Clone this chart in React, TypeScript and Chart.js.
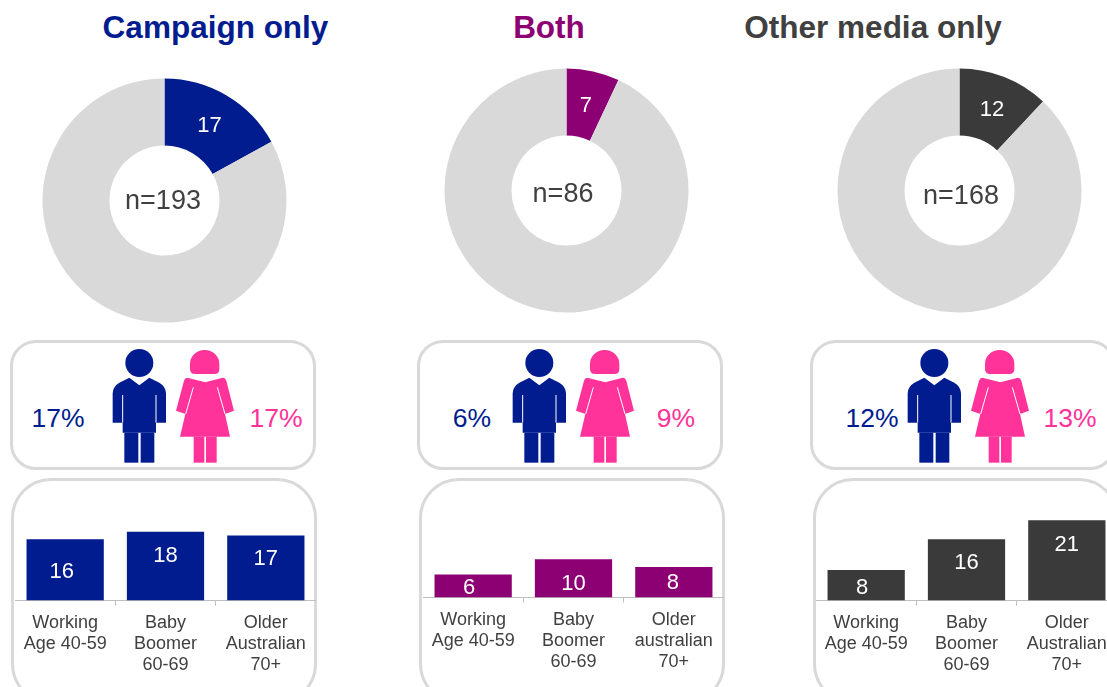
import React, { useEffect, useRef } from "react";
import { Chart, registerables } from "chart.js";

Chart.register(...registerables);

const panelTitles = ["Campaign only", "Both", "Other media only"];
const donutShares = [17, 7, 12];
const donutRemainders = [83, 93, 88];
const sampleSizes = [193, 86, 168];
const malePercents = [17, 6, 12];
const femalePercents = [17, 9, 13];
const ageLabelsA = [["Working", "Age 40-59"], ["Baby", "Boomer", "60-69"], ["Older", "Australian", "70+"]];
const ageLabelsB = [["Working", "Age 40-59"], ["Baby", "Boomer", "60-69"], ["Older", "australian", "70+"]];
const ageValuesCampaign = [16, 18, 17];
const ageValuesBoth = [6, 10, 8];
const ageValuesOther = [8, 16, 21];

const FONT = '"Liberation Sans", Arial, sans-serif';
const NAVY = "#001c8f";
const PURPLE = "#8c0073";
const DARK = "#3a3a3a";
const PINK = "#ff3399";
const GRAY = "#d9d9d9";
const TEXT = "#404040";

const layouts = [
  {
    color: NAVY, titleX: 215.5, donutLeft: 42, donutTop: 78, nX: 163, nY: 200,
    topBox: 10, lowBox: 11, maleX: 58, femaleX: 276, iconDx: 0, barLeft: 15, barTop: 501,
    labels: ageLabelsA, values: ageValuesCampaign, labelInset: [31.5, 23.5, 22.5], labelShift: [-3.5, 0, 0],
  },
  {
    color: PURPLE, titleX: 549, donutLeft: 444, donutTop: 68, nX: 563, nY: 193,
    topBox: 417, lowBox: 419, maleX: 472, femaleX: 676, iconDx: 400, barLeft: 423, barTop: 498,
    labels: ageLabelsB, values: ageValuesBoth, labelInset: [12, 23.5, 14.5], labelShift: [-4, 0, -1],
  },
  {
    color: TEXT, barColor: DARK, titleX: 873, donutLeft: 837, donutTop: 68, nX: 961, nY: 195,
    topBox: 810, lowBox: 813, maleX: 872, femaleX: 1070, iconDx: 794.5, barLeft: 816, barTop: 501,
    labels: ageLabelsA, values: ageValuesOther, labelInset: [17, 23, 24], labelShift: [-4, 0, 0],
  },
];

function Donut({ index }: { index: number }) {
  const ref = useRef<HTMLCanvasElement>(null);
  const l = layouts[index];
  useEffect(() => {
    const chart = new Chart(ref.current!, {
      type: "doughnut",
      data: {
        labels: [panelTitles[index], "Other"],
        datasets: [{
          data: [donutShares[index], donutRemainders[index]],
          backgroundColor: [l.barColor ?? l.color, GRAY],
          borderWidth: 0,
        }],
      },
      options: {
        animation: false,
        responsive: false,
        cutout: 55,
        layout: { padding: 0.5 },
        plugins: { legend: { display: false }, tooltip: { enabled: false } },
      },
      plugins: [{
        id: "sliceLabel",
        afterDatasetsDraw(c: any) {
          const arc = c.getDatasetMeta(0).data[0];
          const p = arc.getCenterPoint();
          const ctx = c.ctx;
          ctx.save();
          ctx.fillStyle = "#ffffff";
          ctx.font = `22px ${FONT}`;
          ctx.textAlign = "center";
          ctx.textBaseline = "middle";
          ctx.fillText(String(donutShares[index]), p.x, p.y + 2);
          ctx.restore();
        },
      }],
    } as any);
    return () => chart.destroy();
  }, []);
  return (
    <canvas
      ref={ref}
      width={245}
      height={245}
      style={{ position: "absolute", left: l.donutLeft, top: l.donutTop, width: 245, height: 245 }}
    />
  );
}

function Bars({ index }: { index: number }) {
  const ref = useRef<HTMLCanvasElement>(null);
  const l = layouts[index];
  useEffect(() => {
    const chart = new Chart(ref.current!, {
      type: "bar",
      data: {
        labels: l.labels,
        datasets: [{
          data: l.values,
          backgroundColor: l.barColor ?? l.color,
          borderWidth: 0,
          barPercentage: 0.77,
          categoryPercentage: 1,
        }],
      },
      options: {
        animation: false,
        responsive: false,
        layout: { padding: 0 },
        plugins: { legend: { display: false }, tooltip: { enabled: false } },
        scales: {
          y: { display: false, min: 0, max: 26 },
          x: {
            afterFit(s: any) { s.height = 86.4; },
            border: { display: true, color: "#bfbfbf", width: 1 },
            grid: { drawOnChartArea: false, drawTicks: true, tickLength: 5, offset: true, color: "#bfbfbf" },
            ticks: {
              autoSkip: false,
              maxRotation: 0,
              minRotation: 0,
              padding: 7,
              color: TEXT,
              font: { family: FONT, size: 18, lineHeight: 21 / 18 },
            },
          },
        },
      },
      plugins: [{
        id: "barLabels",
        afterDatasetsDraw(c: any) {
          const ctx = c.ctx;
          ctx.save();
          ctx.fillStyle = "#ffffff";
          ctx.font = `22px ${FONT}`;
          ctx.textAlign = "center";
          ctx.textBaseline = "middle";
          c.getDatasetMeta(0).data.forEach((bar: any, i: number) => {
            ctx.fillText(String(l.values[i]), bar.x + l.labelShift[i], bar.y + l.labelInset[i] + 1);
          });
          ctx.restore();
        },
      }],
    } as any);
    return () => chart.destroy();
  }, []);
  return (
    <canvas
      ref={ref}
      width={301}
      height={186}
      style={{ position: "absolute", left: l.barLeft, top: l.barTop, width: 301, height: 186 }}
    />
  );
}

function Figures({ dx }: { dx: number }) {
  return (
    <svg
      viewBox="0 0 450 390"
      width={150}
      height={130}
      style={{ position: "absolute", left: 100 + dx, top: 340 }}
    >
      <circle cx={118} cy={69} r={42} fill={NAVY} />
      <path
        d="M88 113 L118 136 L148 113 L178 128 Q198 140 198 160 L198 248 L168 248 L168 278 L68 278 L68 248 L38 248 L38 160 Q38 140 58 128 Z"
        fill={NAVY}
      />
      <path d="M68 165 L68 248 M168 165 L168 248" stroke="#ffffff" strokeWidth={3} fill="none" />
      <rect x={73} y={278} width={42} height={90} fill={NAVY} />
      <rect x={122} y={278} width={41} height={90} fill={NAVY} />
      <path
        d="M270 72 A44 42 0 0 1 358 72 L358 88 Q358 104 340 102 L290 102 Q270 104 270 88 Z"
        fill={PINK}
      />
      <path
        d="M262 113 L316 127 L368 113 Q376 113 379 122 L402 212 L375 222 L390 290 L240 290 L256 222 L228 212 L252 122 Q255 113 262 113 Z"
        fill={PINK}
      />
      <path d="M280 142 L257 222 M352 142 L375 222" stroke="#ffffff" strokeWidth={3} fill="none" />
      <rect x={281} y={290} width={32} height={78} fill={PINK} />
      <rect x={318} y={290} width={32} height={78} fill={PINK} />
    </svg>
  );
}

function centered(x: number, y: number, size: number, color: string, bold = false): React.CSSProperties {
  return {
    position: "absolute",
    left: x - 200,
    top: y - 30,
    width: 400,
    height: 60,
    lineHeight: "60px",
    textAlign: "center",
    fontFamily: FONT,
    fontSize: size,
    fontWeight: bold ? 700 : 400,
    color,
    whiteSpace: "nowrap",
  };
}

export default function App() {
  return (
    <div style={{ position: "fixed", left: 0, top: 0, width: 1107, height: 687, overflow: "hidden", background: "#ffffff" }}>
      {layouts.map((l, i) => (
        <React.Fragment key={i}>
          <div style={centered(l.titleX, 26.5, 31.5, l.color, true)}>{panelTitles[i]}</div>
          <Donut index={i} />
          <div style={centered(l.nX, l.nY, 27, TEXT)}>n={sampleSizes[i]}</div>
          <div style={{ position: "absolute", boxSizing: "border-box", left: l.topBox, top: 340, width: 306, height: 130, border: `3px solid ${GRAY}`, borderRadius: 26 }} />
          <div style={{ position: "absolute", boxSizing: "border-box", left: l.lowBox, top: 478, width: 306, height: 226, border: `3px solid ${GRAY}`, borderRadius: 40 }} />
          <Figures dx={l.iconDx} />
          <div style={centered(l.maleX, 418, 26.5, NAVY)}>{malePercents[i]}%</div>
          <div style={centered(l.femaleX, 418, 26.5, PINK)}>{femalePercents[i]}%</div>
          <Bars index={i} />
        </React.Fragment>
      ))}
    </div>
  );
}
